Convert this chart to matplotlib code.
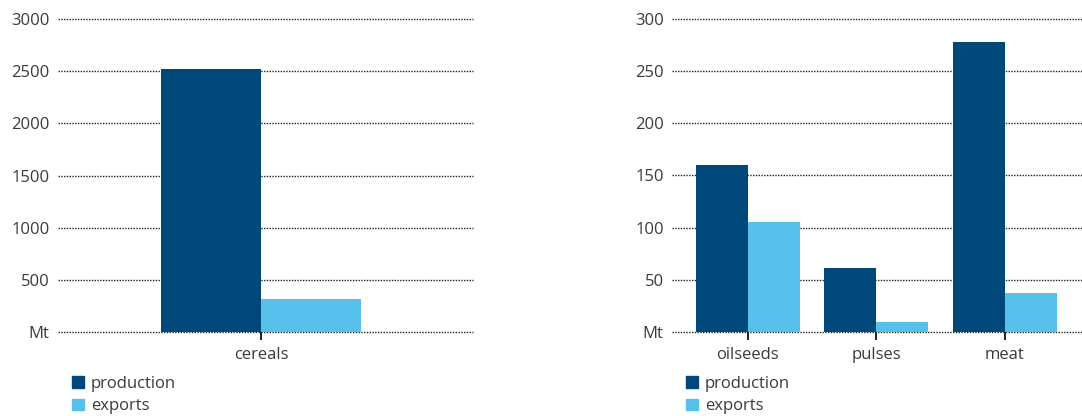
import numpy as np
import matplotlib
matplotlib.use("Agg")
import matplotlib.pyplot as plt
from matplotlib.patches import Patch

# Data (Mt)
left_cats = ["cereals"]
left_production = [2520]
left_exports = [316]

right_cats = ["oilseeds", "pulses", "meat"]
right_production = [160, 61, 278]
right_exports = [105, 10, 37]

left_ticks = [0, 500, 1000, 1500, 2000, 2500, 3000]
right_ticks = [0, 50, 100, 150, 200, 250, 300]

DARK = "#01487A"
LIGHT = "#56C0EB"
TEXT = "#3a3a3a"

plt.rcParams["font.family"] = ["Open Sans", "DejaVu Sans"]

W, H = 1082, 416
fig = plt.figure(figsize=(W / 100, H / 100), dpi=100)


def draw_panel(rect, cats, prod, exp, ticks, width, xlim):
    ax = fig.add_axes(rect)
    x = np.arange(len(cats))
    ax.bar(x - width / 2, prod, width, color=DARK, zorder=3, linewidth=0)
    ax.bar(x + width / 2, exp, width, color=LIGHT, zorder=3, linewidth=0)
    ax.set_xlim(*xlim)
    ax.set_ylim(ticks[0], ticks[-1])
    ax.set_yticks(ticks)
    ax.set_yticklabels(["Mt"] + [str(t) for t in ticks[1:]])
    ax.set_xticks(x)
    ax.set_xticklabels(cats)
    for s in ax.spines.values():
        s.set_visible(False)
    ax.yaxis.grid(True, linestyle=(0, (1, 1)), color="#222222", linewidth=1.0, zorder=1)
    for gl in ax.get_ygridlines():
        gl.set_clip_on(False)
    ax.tick_params(axis="y", length=0, pad=6, labelsize=12, labelcolor=TEXT)
    ax.tick_params(axis="x", length=0, pad=11, labelsize=12, labelcolor=TEXT)
    # category tick marks below the baseline
    trans = ax.get_xaxis_transform()
    ax.vlines(x, -0.025, 0, transform=trans, colors="#111111", linewidth=1.3,
              clip_on=False, zorder=5)
    handles = [Patch(color=DARK, label="production"), Patch(color=LIGHT, label="exports")]
    ax.legend(handles=handles, loc="upper left", frameon=False,
              bbox_to_anchor=(rect[0] + 14 / W, 84 / H - 44 / H),
              bbox_transform=fig.transFigure,
              handlelength=0.72, handleheight=0.72, handletextpad=0.4,
              labelspacing=0.38, borderaxespad=0, borderpad=0,
              prop={"size": 12}, labelcolor=TEXT)
    return ax


draw_panel([58 / W, 84 / H, 415 / W, 313 / H], left_cats, left_production,
           left_exports, left_ticks, 0.241, (-0.49, 0.51))
draw_panel([672 / W, 84 / H, 410 / W, 313 / H], right_cats, right_production,
           right_exports, right_ticks, 0.405, (-0.59, 2.6))

fig.savefig("out.png", dpi=100)
